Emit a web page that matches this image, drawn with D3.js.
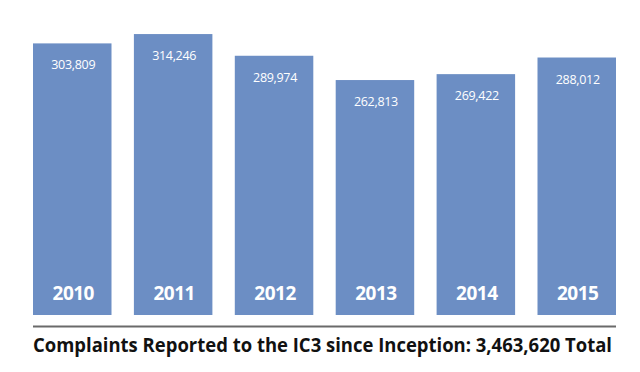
<!DOCTYPE html>
<html><head><meta charset="utf-8">
<script src="https://cdn.jsdelivr.net/npm/d3@7"></script>
<style>html,body{margin:0;padding:0;background:#fff;}svg{display:block;}</style>
</head><body>
<svg id="chart" width="640" height="372"></svg>
<script>
const years = ["2010","2011","2012","2013","2014","2015"];
const complaints = [303809, 314246, 289974, 262813, 269422, 288012];
const valueLabels = ["303,809","314,246","289,974","262,813","269,422","288,012"];
const titleText = "Complaints Reported to the IC3 since Inception: 3,463,620 Total";

const svg = d3.select("#chart");
const x = d3.scaleBand().domain(years).range([33, 616]).paddingInner(0.222).paddingOuter(0);
const y = d3.scaleLinear().domain([0, 350000]).range([315, 315 - 350000 * 0.000894]);

const g = svg.append("g");
const bars = g.selectAll("g.bar").data(years).enter().append("g").attr("class","bar");
bars.append("rect")
  .attr("x", d => x(d))
  .attr("width", x.bandwidth())
  .attr("y", (d,i) => y(complaints[i]))
  .attr("height", (d,i) => y(0) - y(complaints[i]))
  .attr("fill", "#6c8ec4");
bars.append("text")
  .attr("x", d => x(d) + x.bandwidth()/2 + 1)
  .attr("y", (d,i) => y(complaints[i]) + 26)
  .attr("text-anchor","middle")
  .attr("fill","#fff")
  .attr("font-family","'Open Sans', sans-serif")
  .attr("font-size", 12.5)
  .attr("letter-spacing", -0.3)
  .text((d,i) => valueLabels[i]);
bars.append("text")
  .attr("x", d => x(d) + x.bandwidth()/2 + 1)
  .attr("y", y(0) - 15)
  .attr("text-anchor","middle")
  .attr("fill","#fff")
  .attr("font-family","'Open Sans', sans-serif")
  .attr("font-weight","bold")
  .attr("font-size", 19)
  .attr("letter-spacing", -0.5)
  .text(d => d);

svg.append("line")
  .attr("x1", 33).attr("x2", 616)
  .attr("y1", 326.5).attr("y2", 326.5)
  .attr("stroke", "#6a6a6a").attr("stroke-width", 2);

svg.append("text")
  .attr("x", 33).attr("y", 352)
  .attr("font-family","'Open Sans', sans-serif")
  .attr("font-weight","bold")
  .attr("font-size", 19)
  .attr("fill","#111")
  .attr("textLength", 579)
  .attr("lengthAdjust","spacingAndGlyphs")
  .text(titleText);
</script>
</body></html>
